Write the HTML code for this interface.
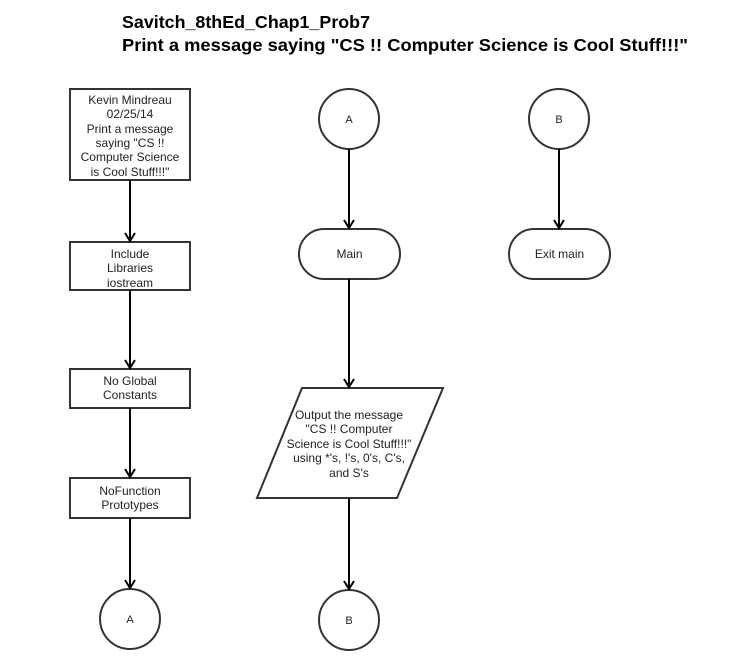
<!DOCTYPE html>
<html><head><meta charset="utf-8"><style>
html,body{margin:0;padding:0;background:#fff;}
svg{display:block;}
text{font-family:"Liberation Sans",Arial,sans-serif;}
.t{font-size:12px;fill:#222;text-anchor:middle;}
</style></head><body>
<svg width="747" height="670" viewBox="0 0 747 670" xmlns="http://www.w3.org/2000/svg">
<defs><marker id="ah" markerWidth="12" markerHeight="12" refX="10" refY="6" orient="auto" markerUnits="userSpaceOnUse" viewBox="0 0 12 12"><path d="M2,1 L10,6 L2,11" fill="none" stroke="#000" stroke-width="2"/></marker></defs>
<text x="122" y="28" font-size="17.5" font-weight="bold" fill="#000" textLength="248" lengthAdjust="spacingAndGlyphs">Savitch_8thEd_Chap1_Prob7</text>
<text x="122" y="51" font-size="17.5" font-weight="bold" fill="#000" textLength="566" lengthAdjust="spacingAndGlyphs">Print a message saying "CS !! Computer Science is Cool Stuff!!!"</text>
<g fill="#fff" stroke="#333" stroke-width="2">
<rect x="70" y="89" width="120" height="91"/>
<rect x="70" y="242" width="120" height="48"/>
<rect x="70" y="369" width="120" height="39"/>
<rect x="70" y="478" width="120" height="40"/>
<circle cx="130" cy="619" r="30"/>
<circle cx="349" cy="119" r="30"/>
<circle cx="559" cy="119" r="30"/>
<rect x="299" y="229" width="101" height="50" rx="25"/>
<rect x="509" y="229" width="101" height="50" rx="25"/>
<polygon points="302,388 443,388 397,498 257,498"/>
<circle cx="349" cy="620" r="30"/>
</g>
<g stroke="#000" stroke-width="2" fill="none" marker-end="url(#ah)">
<line x1="130" y1="180" x2="130" y2="241"/>
<line x1="130" y1="290" x2="130" y2="368"/>
<line x1="130" y1="408" x2="130" y2="477"/>
<line x1="130" y1="518" x2="130" y2="588"/>
<line x1="349" y1="149" x2="349" y2="228"/>
<line x1="559" y1="149" x2="559" y2="228"/>
<line x1="349" y1="279" x2="349" y2="387"/>
<line x1="349" y1="498" x2="349" y2="589"/>
</g>
<g class="t">
<text x="130" y="104">Kevin Mindreau</text>
<text x="130" y="118">02/25/14</text>
<text x="130" y="133">Print a message</text>
<text x="130" y="147">saying "CS !!</text>
<text x="130" y="161">Computer Science</text>
<text x="130" y="176">is Cool Stuff!!!"</text>
<text x="130" y="258">Include</text>
<text x="130" y="272">Libraries</text>
<text x="130" y="287">iostream</text>
<text x="130" y="385">No Global</text>
<text x="130" y="399">Constants</text>
<text x="130" y="495">NoFunction</text>
<text x="130" y="509">Prototypes</text>
<text x="130" y="623" font-size="11">A</text>
<text x="349" y="123" font-size="11">A</text>
<text x="559" y="123" font-size="11">B</text>
<text x="349.5" y="258">Main</text>
<text x="559.5" y="258">Exit main</text>
<text x="349" y="419">Output the message</text>
<text x="349" y="433">"CS !! Computer</text>
<text x="349" y="448">Science is Cool Stuff!!!"</text>
<text x="349" y="462">using *'s, !'s, 0's, C's,</text>
<text x="349" y="477">and S's</text>
<text x="349" y="624" font-size="11">B</text>
</g>
</svg>
</body></html>
